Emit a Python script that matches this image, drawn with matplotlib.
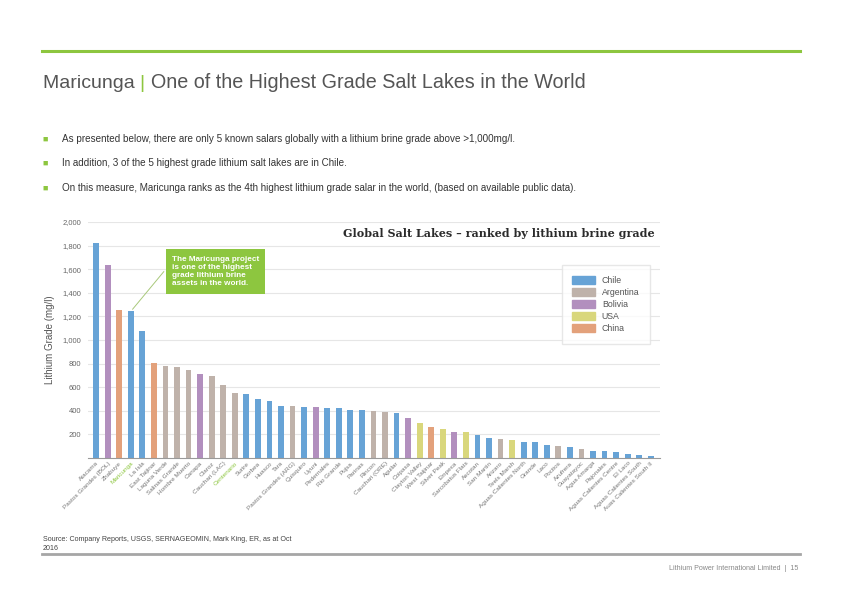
import matplotlib.pyplot as plt
from matplotlib.lines import Line2D
from matplotlib.patches import Patch

# salars ranked by lithium brine grade (mg/l)
salars = [
    "Atacama", "Pastos Grandes (BOL)", "Zhabuye", "Maricunga", "La Isla",
    "East Taijinar", "Laguna Verde", "Salinas Grande", "Hombre Muerto", "Canapa",
    "Olaroz", "Cauchari (LAC)", "Centenario", "Surire", "Gorbea", "Huasco",
    "Tara", "Pastos Grandes (ARG)", "Quisquiro", "Uyuni", "Pedernales",
    "Rio Grande", "Pujsa", "Parinas", "Rincon", "Cauchari (ORE)", "Aguilar",
    "Coipasa", "Clayton Valley", "West Taijinar", "Silver Peak", "Empexa",
    "Sarcobatus Flats", "Ascotan", "San Martin", "Arizaro", "Teels Marsh",
    "Aguas Calientes North", "Grande", "Laco", "Pocitos", "Azufrera",
    "Guayatayoc", "Agua Amarga", "Pajonales", "Aguas Calientes Centre",
    "El Laco", "Aguas Calientes South", "Auas Calientes South II",
]
grades = [
    1825, 1634, 1254, 1242, 1076, 806, 783, 775, 747, 713,
    693, 620, 555, 544, 499, 479, 442, 442, 428, 428,
    423, 420, 403, 403, 397, 386, 380, 341, 299, 259,
    248, 217, 217, 192, 172, 163, 152, 135, 132, 107,
    99, 90, 73, 62, 59, 48, 37, 23, 14,
]
countries = [
    "Chile", "Bolivia", "China", "Chile", "Chile",
    "China", "Argentina", "Argentina", "Argentina", "Bolivia",
    "Argentina", "Argentina", "Argentina", "Chile", "Chile", "Chile",
    "Chile", "Argentina", "Chile", "Bolivia", "Chile",
    "Chile", "Chile", "Chile", "Argentina", "Argentina", "Chile",
    "Bolivia", "USA", "China", "USA", "Bolivia",
    "USA", "Chile", "Chile", "Argentina", "USA",
    "Chile", "Chile", "Chile", "Argentina", "Chile",
    "Argentina", "Chile", "Chile", "Chile",
    "Chile", "Chile", "Chile",
]
legend_order = ["Chile", "Argentina", "Bolivia", "USA", "China"]
highlight = ["Maricunga", "Centenario"]

country_colors = {
    "Chile": "#67a3d6",
    "Argentina": "#bfb2aa",
    "Bolivia": "#b28fbe",
    "USA": "#d9d77c",
    "China": "#e3a17b",
}
GREEN = "#8dc63f"
GREY_TXT = "#555555"

bullets = [
    "As presented below, there are only 5 known salars globally with a lithium brine grade above >1,000mg/l.",
    "In addition, 3 of the 5 highest grade lithium salt lakes are in Chile.",
    "On this measure, Maricunga ranks as the 4th highest lithium grade salar in the world, (based on available public data).",
]

plt.rcParams["font.family"] = ["Liberation Sans", "DejaVu Sans"]

fig = plt.figure(figsize=(8.42, 5.96), dpi=100)
W, H = 842, 596


def fx(px):
    return px / W


def fy(py):
    return 1 - py / H


# page header
fig.add_artist(Line2D([fx(42), fx(800)], [fy(51), fy(51)], color=GREEN, lw=2.2))
t1 = fig.text(fx(43), fy(83), "Maricunga ", fontsize=14, color=GREY_TXT, va="center")
fig.canvas.draw()
r = fig.canvas.get_renderer()
bb = t1.get_window_extent(r)
t2 = fig.text(bb.x1 / W, fy(83), "| ", fontsize=14, color=GREEN, va="center")
bb = t2.get_window_extent(r)
fig.text(bb.x1 / W, fy(83), "One of the Highest Grade Salt Lakes in the World",
         fontsize=14.2, color=GREY_TXT, va="center")

for i, line in enumerate(bullets):
    y = [139, 163, 188][i]
    fig.text(fx(42.5), fy(y), "\u25a0", fontsize=6.5, color=GREEN, va="center")
    fig.text(fx(62), fy(y), line, fontsize=7.1, color="#333333", va="center")

# chart
ax = fig.add_axes([fx(88), fy(458), fx(660) - fx(88), fy(222) - fy(458)])
x = range(len(salars))
ax.bar(x, grades, width=0.5, color=[country_colors[c] for c in countries], zorder=2)
ax.set_ylim(0, 2000)
ax.set_xlim(-0.7, len(salars) - 0.2)
ax.set_yticks(range(200, 2001, 200))
ax.set_yticklabels([f"{v:,}" for v in range(200, 2001, 200)])
ax.grid(axis="y", color="#e6e6e6", lw=0.8, zorder=0)
for s in ["top", "right", "left"]:
    ax.spines[s].set_visible(False)
ax.spines["bottom"].set_color("#9a9a9a")
ax.tick_params(axis="y", length=0, labelsize=5.5, labelcolor="#666666", pad=5)
ax.tick_params(axis="x", length=0, pad=2)
ax.set_xticks(list(x))
ax.set_xticklabels(salars, rotation=45, ha="right", rotation_mode="anchor",
                   fontsize=4.6, color="#777777")
for lbl in ax.get_xticklabels():
    if lbl.get_text() in highlight:
        lbl.set_color(GREEN)
ax.set_ylabel("Lithium Grade (mg/l)", fontsize=7, color="#555555", labelpad=5)

ax.text(0.99, 0.95, "Global Salt Lakes \u2013 ranked by lithium brine grade",
        transform=ax.transAxes, ha="right", va="center", fontsize=8.0,
        fontweight="bold", family="DejaVu Serif", color="#2b2b2b")

handles = [Patch(color=country_colors[c], label=c) for c in legend_order]
leg = ax.legend(handles=handles, loc="upper right", bbox_to_anchor=(0.99, 0.835),
                fontsize=6.3, frameon=True, handlelength=2.6, handleheight=1.0,
                borderpad=1.2, labelspacing=0.35, handletextpad=0.8,
                fancybox=False, edgecolor="#e2e2e2")
for txt in leg.get_texts():
    txt.set_color("#555555")

ax.annotate(
    "The Maricunga project\nis one of the highest\ngrade lithium brine\nassets in the world.",
    xy=(3, grades[3]), xytext=(6.55, 1715), ha="left", va="top",
    fontsize=5.9, fontweight="bold", color="white", linespacing=1.25,
    bbox=dict(boxstyle="square,pad=0.75", fc=GREEN, ec="none"),
    arrowprops=dict(arrowstyle="-", color="#a8c87a", lw=0.7, relpos=(0, 0.8)),
)

# footer
fig.text(fx(43), fy(544), "Source: Company Reports, USGS, SERNAGEOMIN, Mark King, ER, as at Oct\n2016",
         fontsize=5.1, color="#444444", va="center", linespacing=1.3)
fig.add_artist(Line2D([fx(42), fx(800)], [fy(554), fy(554)], color="#a6a6a6", lw=2))
fig.text(fx(798), fy(568), "Lithium Power International Limited  |  15",
         fontsize=5.1, color="#888888", ha="right", va="center")

fig.savefig("out.png", dpi=100)
